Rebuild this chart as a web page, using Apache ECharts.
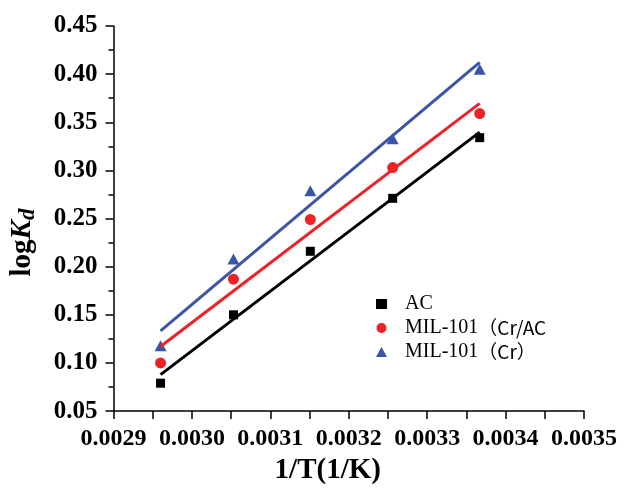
<!DOCTYPE html>
<html>
<head>
<meta charset="utf-8">
<script src="https://cdn.jsdelivr.net/npm/echarts@6/dist/echarts.min.js"></script>
<style>
  html, body { margin: 0; padding: 0; background: #fff; }
  #chart { width: 637px; height: 490px; }
</style>
</head>
<body>
<div id="chart"></div>
<script>
// Inverse temperature (1/K) of the five measurements
const invT = [0.00296, 0.003053, 0.003151, 0.003256, 0.003367];

// log Kd for each adsorbent
const acLogKd = [0.079, 0.150, 0.216, 0.271, 0.334];
const milCrAcLogKd = [0.100, 0.187, 0.249, 0.303, 0.359];
const milCrLogKd = [0.118, 0.208, 0.279, 0.333, 0.405];

const seriesNames = ['AC', 'MIL-101（Cr/AC', 'MIL-101（Cr）'];
const seriesColors = ['#000000', '#ec2227', '#3a55a6'];
const seriesSymbols = ['rect', 'circle', 'triangle'];
const symbolSizes = [9, 11, [12, 11]];
const seriesValues = [acLogKd, milCrAcLogKd, milCrLogKd];

// Least-squares straight line through (xs, ys), spanning the data range
function linearFit(xs, ys) {
  const n = xs.length;
  const mx = xs.reduce((s, v) => s + v, 0) / n;
  const my = ys.reduce((s, v) => s + v, 0) / n;
  let sxy = 0, sxx = 0;
  for (let i = 0; i < n; i++) {
    sxy += (xs[i] - mx) * (ys[i] - my);
    sxx += (xs[i] - mx) * (xs[i] - mx);
  }
  const slope = sxy / sxx;
  const b = my - slope * mx;
  return [[xs[0], slope * xs[0] + b], [xs[n - 1], slope * xs[n - 1] + b]];
}

const series = [];
seriesValues.forEach((vals, i) => {
  series.push({
    name: seriesNames[i],
    type: 'scatter',
    symbol: seriesSymbols[i],
    symbolSize: symbolSizes[i],
    symbolKeepAspect: true,
    itemStyle: { color: seriesColors[i], opacity: 1 },
    data: invT.map((x, k) => [x, vals[k]]),
    z: 2
  });
  series.push({
    name: seriesNames[i] + ' fit',
    type: 'line',
    symbol: 'none',
    silent: true,
    lineStyle: { color: seriesColors[i], width: 3 },
    data: linearFit(invT, vals),
    z: 3
  });
});

const serif = 'Liberation Serif';
const axisLine = { lineStyle: { color: '#000', width: 1.5 } };

const chart = echarts.init(document.getElementById('chart'), null, { renderer: 'canvas' });
chart.setOption({
  animation: false,
  backgroundColor: '#fff',
  grid: { left: 113, right: 53, top: 26, bottom: 77 },
  legend: {
    orient: 'vertical',
    left: 371,
    top: 289,
    itemWidth: 11,
    itemHeight: 10,
    itemGap: 4,
    data: seriesNames,
    formatter: function (name) {
      const k = name.indexOf('（');
      if (k < 0) return '{a|' + name + '}';
      return '{a|' + name.slice(0, k) + '}{b|' + name.slice(k) + '}';
    },
    textStyle: {
      color: '#000',
      padding: [0, 0, 0, 13],
      rich: {
        a: { fontFamily: serif, fontSize: 20, color: '#000', lineHeight: 21 },
        b: { fontFamily: 'Noto Sans CJK SC', fontSize: 19, color: '#000', lineHeight: 21 }
      }
    }
  },
  xAxis: {
    type: 'value',
    min: 0.0029,
    max: 0.0035,
    interval: 0.0001,
    name: '1/T(1/K)',
    nameLocation: 'middle',
    nameGap: 38,
    nameTextStyle: {
      fontFamily: serif, fontWeight: 'bold', fontSize: 29, color: '#000',
      padding: [0, 42, 0, 0]
    },
    axisLine: axisLine,
    axisTick: { inside: false, length: 8, lineStyle: { color: '#000', width: 1.5 } },
    minorTick: { show: true, splitNumber: 2, length: 8, lineStyle: { color: '#000', width: 1.5 } },
    splitLine: { show: false },
    axisLabel: {
      margin: 16,
      fontFamily: serif, fontWeight: 'bold', fontSize: 24, color: '#000',
      formatter: v => v.toFixed(4)
    }
  },
  yAxis: {
    type: 'value',
    min: 0.05,
    max: 0.45,
    interval: 0.05,
    name: '{a|log}{b|K}{c|d}{s|}',
    nameLocation: 'middle',
    nameGap: 74,
    nameTextStyle: {
      rich: {
        a: { fontFamily: serif, fontWeight: 'bold', fontSize: 29, color: '#000', lineHeight: 34 },
        b: { fontFamily: serif, fontWeight: 'bold', fontStyle: 'italic', fontSize: 29, color: '#000', lineHeight: 34 },
        c: { fontFamily: serif, fontWeight: 'bold', fontStyle: 'italic', fontSize: 23, color: '#000', lineHeight: 21, verticalAlign: 'bottom' },
        s: { width: 48, lineHeight: 34 }
      }
    },
    axisLine: { show: true, lineStyle: { color: '#000', width: 1.5 } },
    axisTick: { show: true, inside: false, length: 8, lineStyle: { color: '#000', width: 1.5 } },
    minorTick: { show: true, splitNumber: 2, length: 5, lineStyle: { color: '#000', width: 1.5 } },
    splitLine: { show: false },
    axisLabel: {
      margin: 16,
      fontFamily: serif, fontWeight: 'bold', fontSize: 25, color: '#000',
      formatter: v => v.toFixed(2)
    }
  },
  series: series
});
</script>
</body>
</html>
